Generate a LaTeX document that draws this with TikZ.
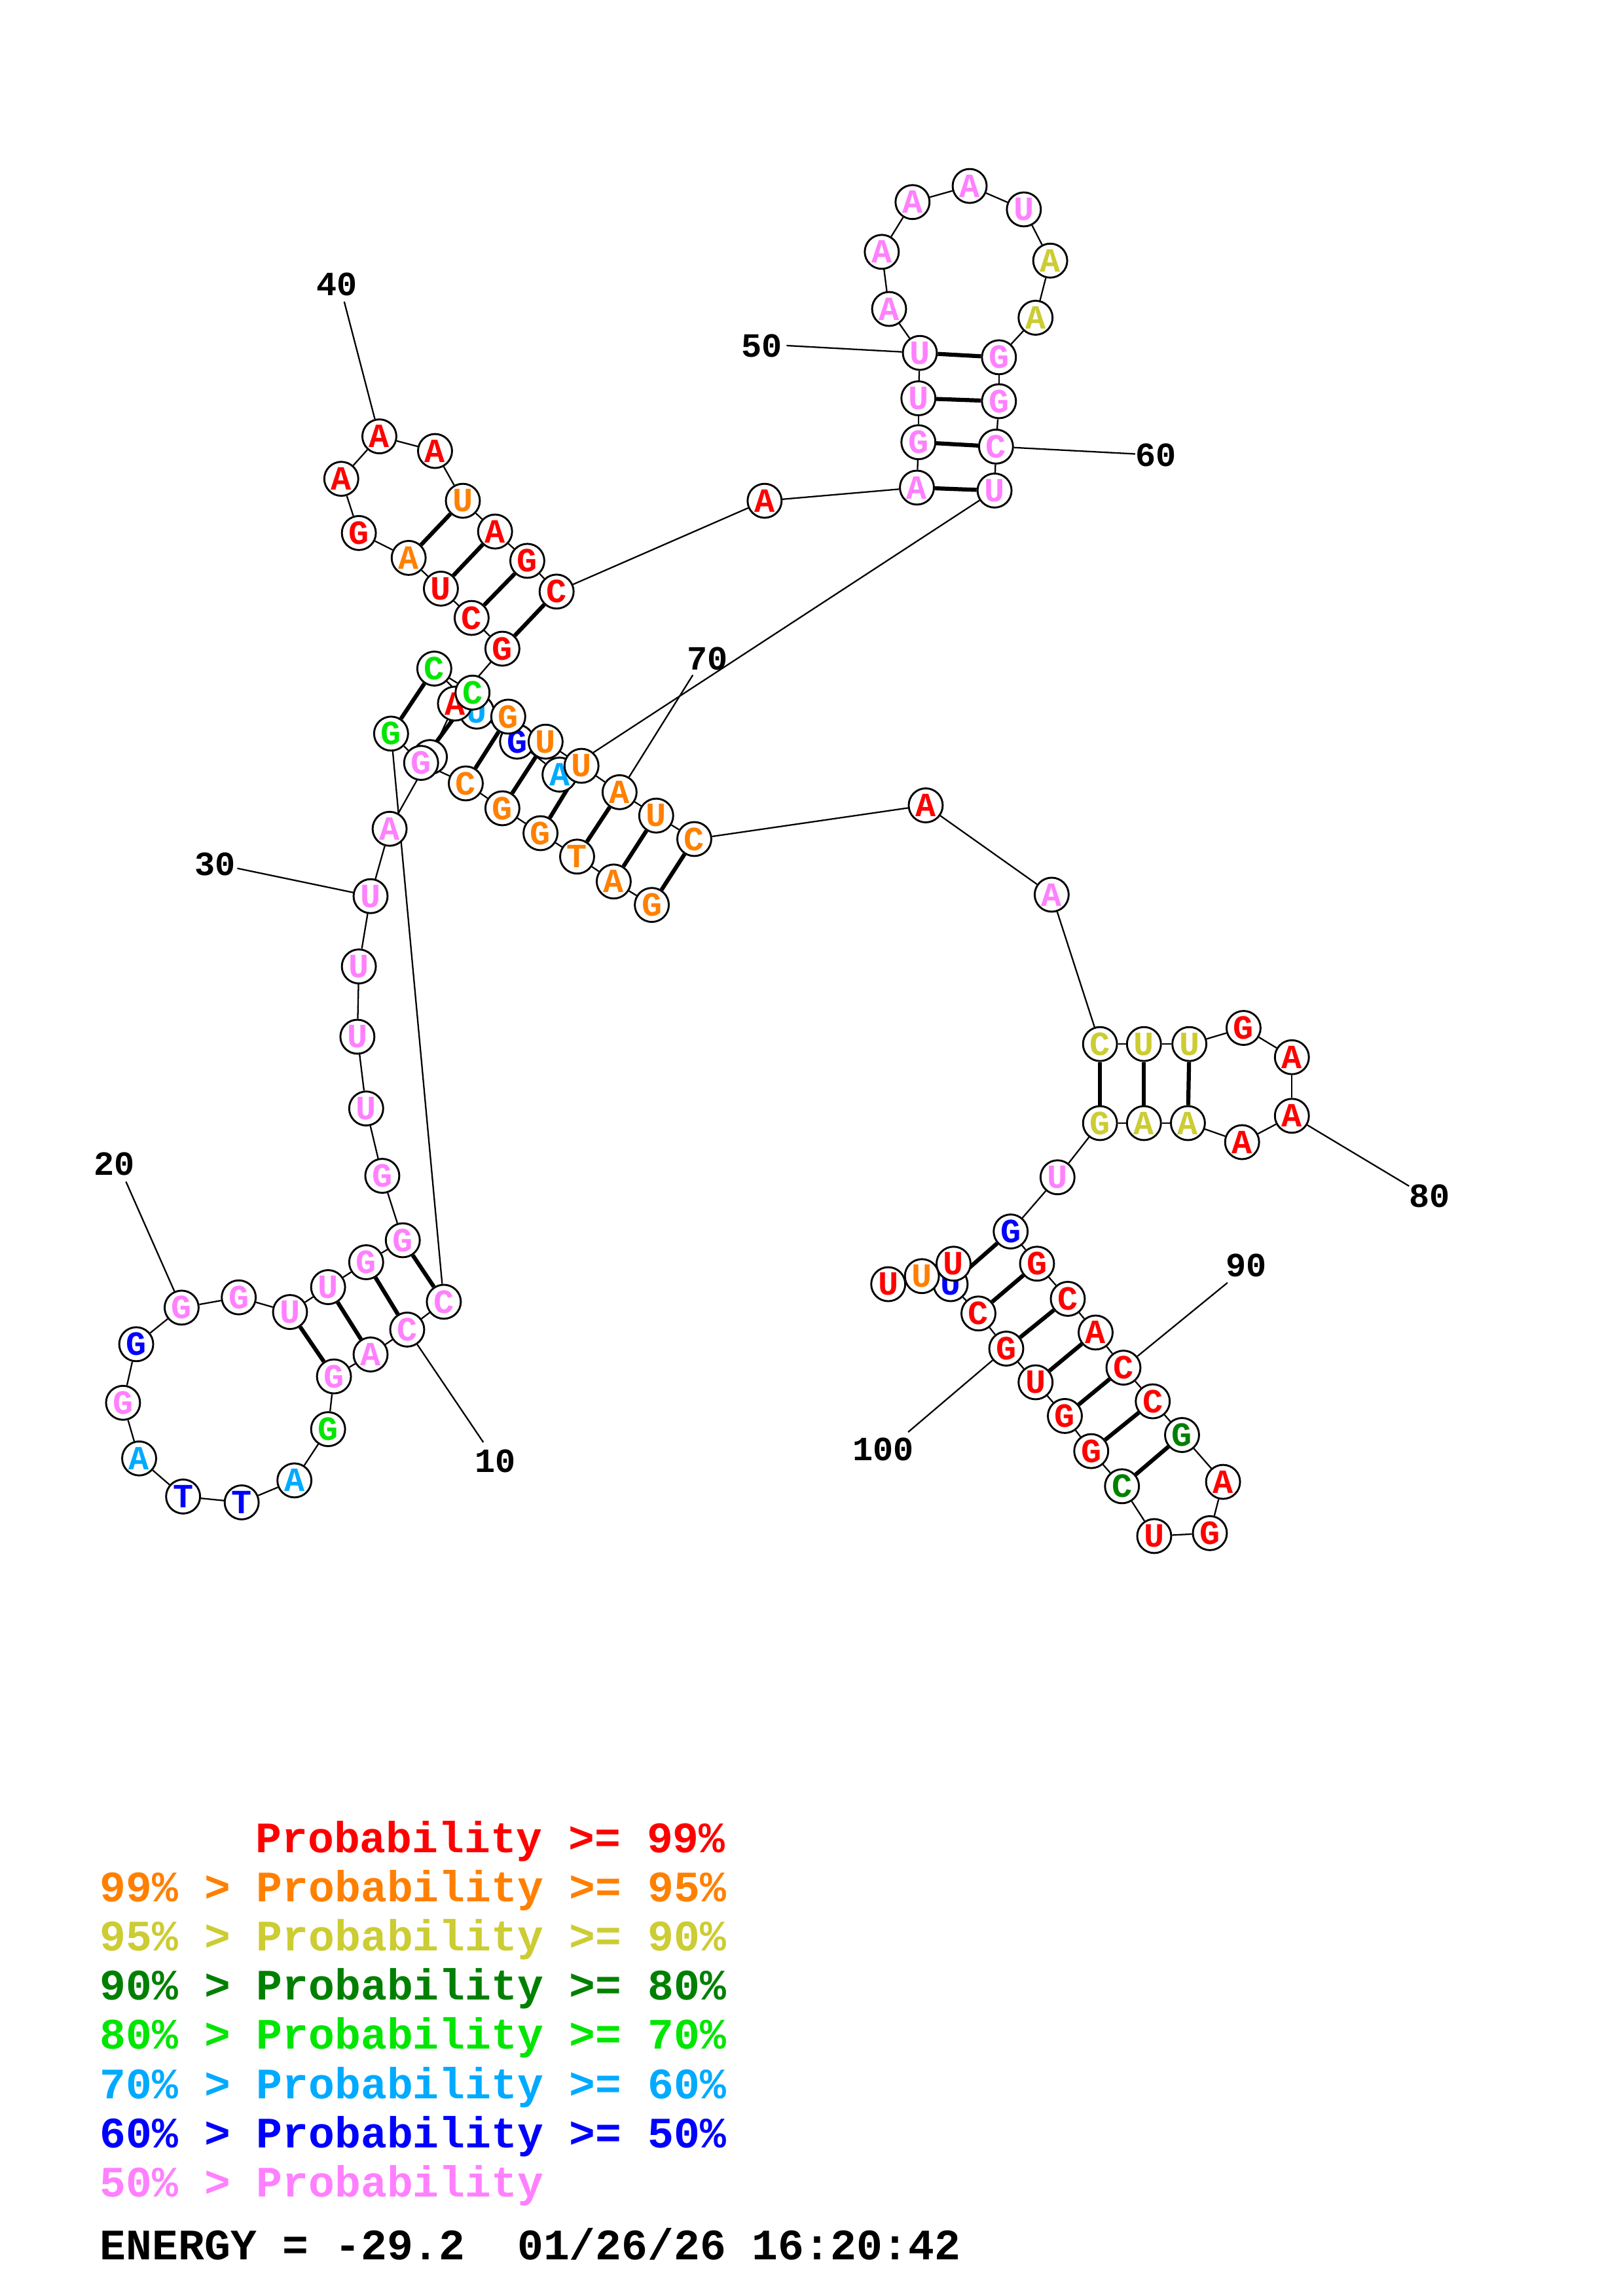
\documentclass[tikz,border=0pt]{standalone}
\usepackage{fontspec}
\setmonofont{Liberation Mono}
\usetikzlibrary{backgrounds}

\definecolor{cR}{RGB}{255,0,0}
\definecolor{cO}{RGB}{255,128,0}
\definecolor{cY}{RGB}{204,204,51}
\definecolor{cD}{RGB}{0,128,0}
\definecolor{cG}{RGB}{0,230,0}
\definecolor{cC}{RGB}{0,170,255}
\definecolor{cB}{RGB}{0,0,255}
\definecolor{cP}{RGB}{255,128,255}

\begin{document}
\begin{tikzpicture}[x=0.018953cm, y=-0.018953cm,
	nuc/.style={circle, draw, line width=0.7pt, fill=white, minimum size=0.44cm, inner sep=0pt,
		font=\ttfamily\bfseries\fontsize{12.5}{12.5}\selectfont},
	bb/.style={line width=0.55pt},
	pair/.style={line width=1.5pt},
	numlbl/.style={inner sep=0pt, font=\ttfamily\bfseries\fontsize{12.5}{12.5}\selectfont},
	legend/.style={anchor=base west, inner sep=0pt, font=\ttfamily\bfseries\fontsize{16}{16}\selectfont}]
	\useasboundingbox (0,0) rectangle (1108,1568);
	% bases hidden under others come first
	\foreach \n/\x/\y/\b/\c in {32/293.5/517//P, 62/382/529/A/C, 63/353/506.5/G/B, 64/325.5/486/U/C,
		102/649/877/U/B, 105/606.4/877/U/R, 33/310.6/480.5/A/R}
		\node[nuc, text=c\c] (n\n) at (\x,\y) {\b};
	% 5' strand of the central helix and the left stem
	\foreach \n/\x/\y/\b/\c in {1/445/618/G/O, 2/419/602/A/O, 3/394/585/T/O, 4/369/569/G/O,
		5/343/552/G/O, 6/318/535/C/O, 7/287.5/521/G/P, 8/267/501/G/G,
		9/303/889/C/P, 10/278/908/C/P, 11/253/925/A/P, 12/228/940/G/P, 13/224/976/G/G,
		14/201/1011/A/C, 15/165/1026/T/B, 16/125/1022/T/B, 17/95/996/A/C, 18/84/958/G/P,
		19/93/918/G/B, 20/124/893/G/P, 21/163/886/G/P, 22/198/896/U/P, 23/224/879/U/P,
		24/250/862/G/P, 25/275/847/G/P, 26/261/803/G/P, 27/250/757/U/P, 28/244/708/U/P,
		29/245/660/U/P, 30/253/612/U/P, 31/266/566/A/P}
		\node[nuc, text=c\c] (n\n) at (\x,\y) {\b};
	% hairpin at 40 and hairpin at 50
	\foreach \n/\x/\y/\b/\c in {34/343/443/G/R, 35/322/422/C/R, 36/301/402/U/R, 37/279/381/A/O,
		38/245/364/G/R, 39/233/327/A/R, 40/259/298/A/R, 41/297/308/A/R, 42/316/342/U/O,
		43/338/363/A/R, 44/360/383/G/R, 45/380/404/C/R, 46/522/342/A/R,
		47/626/333/A/P, 48/627/302/G/P, 49/627/272/U/P, 50/628/241/U/P, 51/607/211/A/P,
		52/602/172/A/P, 53/623/138/A/P, 54/662/127/A/P, 55/699/143/U/P, 56/717/178/A/Y,
		57/707/217/A/Y, 58/682/244/G/P, 59/682/274/G/P, 60/680/305/C/P, 61/679/335/U/P}
		\node[nuc, text=c\c] (n\n) at (\x,\y) {\b};
	% 3' strand of the central helix
	\foreach \n/\x/\y/\b/\c in {65/296.5/456.6/C/G, 66/322.6/473/C/G, 67/347/489.4/G/O,
		68/372.5/506.5/U/O, 69/397/523/U/O, 70/423/541/A/O, 71/448/557/U/O, 72/474/573/C/O}
		\node[nuc, text=c\c] (n\n) at (\x,\y) {\b};
	% hairpin at 80 and hairpin at 90
	\foreach \n/\x/\y/\b/\c in {73/632/550/A/R, 74/718/611/A/P, 75/751/713/C/Y, 76/781/713/U/Y,
		77/812/713/U/Y, 78/849/702/G/R, 79/882/722/A/R, 80/882/762/A/R, 81/848/780/A/R,
		82/811/767/A/Y, 83/781/767/A/Y, 84/751/767/G/Y, 85/722/804/U/P,
		86/690/841/G/B, 87/708/863/G/R, 88/729/887/C/R, 89/748/910/A/R, 90/767/934/C/R,
		91/787/957/C/R, 92/807/980/G/D, 93/835/1012/A/R, 94/826/1047/G/R, 95/788/1049/U/R,
		96/766/1015/C/D, 97/745/991/G/R, 98/727/967/G/R, 99/707/944/U/R, 100/687/921/G/R,
		101/668/897/C/R, 104/629.4/871.5/U/O, 103/651/863/U/R}
		\node[nuc, text=c\c] (n\n) at (\x,\y) {\b};
	% number labels
	\foreach \i/\x/\y/\lx/\ly in {10/330/985/338/998, 20/86/807/78/795, 30/162/593/147/590,
		40/235/206/230/194, 50/537/236/520/236, 60/775/310/789/311, 70/473/461/483/450,
		80/962/810/976/817, 90/838/876/851/864, 100/620/978/603/990}
	{
		\coordinate (t\i) at (\x,\y);
		\node[numlbl] (l\i) at (\lx,\ly) {\i};
	}
	\begin{pgfonlayer}{background}
		\fill[white] (0,0) rectangle (1108,1568);
		% backbone
		\foreach \i in {1,...,104} {
			\pgfmathtruncatemacro\j{\i+1}
			\draw[bb] (n\i) -- (n\j);
		}
		% base pairs
		\foreach \i/\j in {1/72, 2/71, 3/70, 4/69, 5/68, 6/67, 7/66, 8/65, 9/25, 10/24, 11/23, 12/22,
			34/45, 35/44, 36/43, 37/42, 47/61, 48/60, 49/59, 50/58, 75/84, 76/83, 77/82,
			86/102, 87/101, 88/100, 89/99, 90/98, 91/97, 92/96}
			\draw[pair] (n\i) -- (n\j);
		% ticks
		\foreach \i in {10,20,...,100}
			\draw[bb] (n\i) -- (t\i);
	\end{pgfonlayer}
	% legend
	\node[legend, text=cR] (p1) at (174.2,1265) {Probability >= 99\%};
	\node[legend, text=cO] (p2) at (68,1298.6) {99\% > Probability >= 95\%};
	\node[legend, text=cY] (p3) at (68,1332.2) {95\% > Probability >= 90\%};
	\node[legend, text=cD] (p4) at (68,1365.8) {90\% > Probability >= 80\%};
	\node[legend, text=cG] (p5) at (68,1399.4) {80\% > Probability >= 70\%};
	\node[legend, text=cC] (p6) at (68,1433) {70\% > Probability >= 60\%};
	\node[legend, text=cB] (p7) at (68,1466.6) {60\% > Probability >= 50\%};
	\node[legend, text=cP] (p8) at (68,1500.2) {50\% > Probability};
	\node[legend] (energy) at (68,1543) {ENERGY = -29.2\ \ 01/26/26 16:20:42};
\end{tikzpicture}
\end{document}
